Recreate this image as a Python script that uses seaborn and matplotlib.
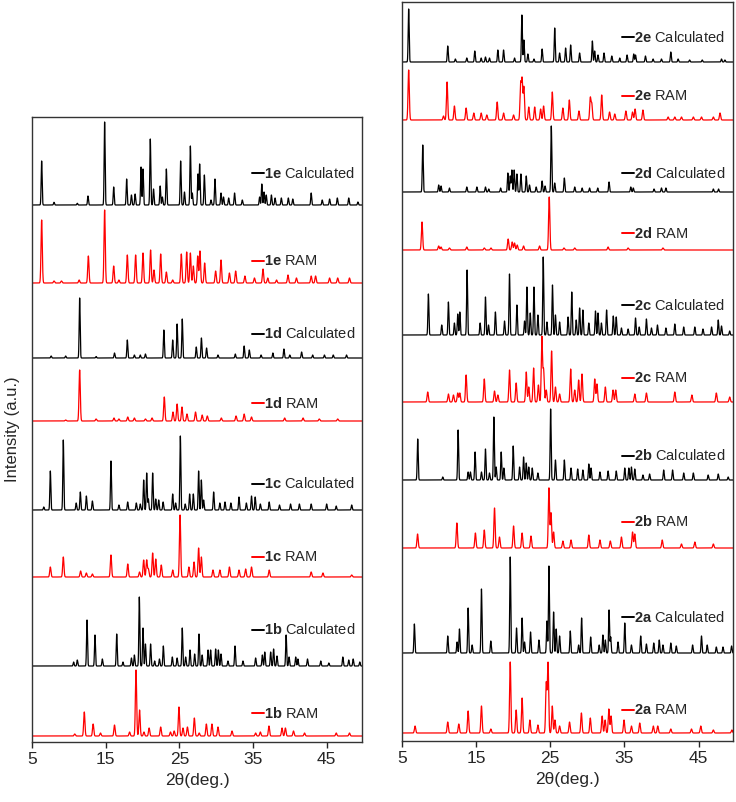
import numpy as np
import pandas as pd
import seaborn as sns
import matplotlib.pyplot as plt

# peak lists: (2theta, height in px)
calc_1e = [(6.31, 44), (7.99, 2.7), (11.15, 1.7), (12.6, 9), (14.86, 83), (16.09, 18), (17.85, 26),
           (18.5, 10), (19.0, 11), (19.8, 38), (20.07, 36), (21.06, 66), (21.5, 16), (22.4, 19),
           (22.7, 8), (23.24, 36), (25.18, 44), (25.7, 13), (26.5, 59), (26.76, 12), (27.53, 31),
           (27.76, 41), (28.4, 30), (29.3, 5), (29.84, 26), (30.66, 12), (31.0, 8), (31.7, 7),
           (32.5, 12), (33.55, 5), (35.9, 8), (36.2, 21), (36.5, 13), (36.8, 10), (37.5, 10),
           (38.0, 7), (38.85, 7), (39.8, 7), (40.4, 6), (42.9, 12), (44.4, 5), (45.4, 6),
           (46.45, 7), (48.0, 7), (49.25, 3)]
ram_1e = [(6.31, 63), (7.99, 2), (9.0, 2), (11.4, 3), (12.65, 27), (14.86, 73), (16.09, 17),
          (16.8, 3), (17.94, 28), (19.07, 28), (20.07, 30), (21.1, 33), (21.56, 13), (22.47, 29),
          (23.24, 11), (24.1, 3), (25.27, 29), (26.0, 31), (26.5, 30), (26.9, 17), (27.5, 27),
          (27.8, 32), (28.44, 20), (29.93, 12), (30.66, 23), (31.8, 10), (32.65, 12), (33.9, 7),
          (35.2, 5), (36.36, 14), (37.0, 5), (38.2, 3), (39.75, 8), (40.9, 5), (42.9, 7),
          (43.5, 7), (45.4, 5), (46.5, 5), (48.1, 5)]
calc_1d = [(7.6, 2), (9.57, 2), (11.47, 60), (13.7, 1.5), (16.2, 5), (17.94, 18), (18.9, 3),
           (19.7, 3), (20.4, 4), (22.9, 28), (24.1, 18), (24.7, 34), (25.4, 39), (27.3, 11),
           (28.0, 20), (28.7, 10), (30.25, 3), (32.6, 4), (33.8, 12), (34.5, 8), (36.1, 3),
           (37.7, 5), (39.2, 9), (40.0, 3), (41.6, 6), (43.1, 3), (44.7, 3), (45.9, 3), (47.7, 3)]
ram_1d = [(9.57, 1), (11.47, 51), (13.7, 2), (16.13, 3), (16.8, 2), (18.0, 4), (18.9, 3),
          (20.4, 2), (21.3, 3), (22.96, 24), (24.14, 9), (24.7, 17), (25.36, 14), (26.04, 7),
          (27.2, 9), (28.1, 6), (28.8, 5), (30.7, 3), (32.7, 5), (33.8, 7), (34.8, 4), (39.3, 3),
          (41.8, 3), (44.0, 2), (46.5, 2)]
calc_1c = [(6.6, 3), (7.49, 39), (9.25, 70), (11.0, 7), (11.56, 18), (12.38, 14), (13.2, 9),
           (15.72, 49), (16.8, 5), (17.99, 8), (19.16, 7), (19.7, 6), (20.16, 30), (20.57, 37),
           (20.8, 11), (21.38, 37), (21.8, 11), (22.2, 10), (22.8, 8), (24.1, 16), (24.5, 7),
           (25.14, 74), (25.8, 6), (26.4, 16), (26.9, 16), (27.62, 39), (27.99, 30), (28.3, 10),
           (29.66, 18), (30.5, 7), (31.2, 8), (32.0, 7), (33.1, 13), (34.1, 7), (34.8, 14),
           (35.3, 13), (36.0, 6), (37.2, 8), (38.6, 5), (40.1, 6), (41.3, 6), (42.9, 6),
           (45.0, 6), (46.3, 4), (48.4, 5)]
ram_1c = [(7.49, 10), (9.25, 20), (11.6, 6), (12.38, 4), (13.2, 3), (15.72, 22), (18.0, 13),
          (19.6, 5), (20.16, 17), (20.57, 17), (20.8, 8), (21.38, 24), (21.8, 18), (22.55, 12),
          (24.1, 7), (25.1, 62), (26.3, 10), (27.0, 15), (27.62, 29), (27.99, 20), (29.57, 7),
          (30.5, 7), (31.8, 10), (33.1, 7), (34.0, 8), (34.8, 10), (37.2, 7), (42.9, 5),
          (44.5, 4), (48.4, 2)]
calc_1b = [(10.65, 4), (11.15, 6), (12.47, 46), (13.55, 31), (14.55, 7), (16.5, 32), (17.35, 4),
           (18.5, 8), (18.9, 11), (19.57, 69), (20.07, 38), (20.4, 22), (21.1, 22), (21.65, 5),
           (22.3, 7), (22.83, 20), (24.05, 9), (24.7, 8), (25.4, 38), (25.86, 9), (26.45, 16),
           (27.08, 12), (27.67, 32), (28.1, 11), (28.9, 16), (29.25, 16), (29.93, 17),
           (30.3, 16), (30.66, 12), (31.6, 5), (32.56, 20), (33.64, 5), (35.36, 8), (36.27, 11),
           (36.6, 14), (37.4, 14), (37.8, 17), (38.26, 10), (39.5, 31), (39.9, 9), (40.8, 9),
           (41.1, 7), (42.4, 7), (44.2, 5), (45.3, 3), (47.2, 9), (48.0, 6), (48.6, 7), (49.5, 4)]
ram_1b = [(10.8, 2), (12.1, 24), (13.3, 12), (14.3, 3), (16.2, 11), (18.25, 4), (19.12, 66),
          (19.6, 26), (20.2, 4), (20.9, 8), (22.47, 9), (23.8, 4), (24.3, 5), (24.95, 29),
          (25.5, 8), (26.1, 9), (27.04, 18), (27.7, 3), (28.67, 12), (29.43, 12), (30.25, 9),
          (32.15, 5), (35.36, 3), (36.0, 4), (37.17, 10), (38.94, 8), (39.4, 8), (40.5, 5),
          (42.0, 3), (46.3, 3), (48.1, 3)]

calc_2e = [(5.9, 53), (11.17, 16), (12.2, 3), (13.74, 4), (14.82, 11), (15.68, 4), (16.26, 5),
           (16.8, 4), (17.93, 12), (18.7, 12), (20.18, 4), (21.17, 47), (21.44, 22), (21.98, 8),
           (22.8, 3), (23.9, 13), (25.6, 34), (26.26, 9), (27.07, 14), (27.75, 17), (28.96, 9),
           (30.68, 21), (30.99, 11), (31.44, 7), (32.25, 9), (33.3, 6), (34.37, 4), (35.36, 7),
           (36.26, 8), (36.5, 7), (37.84, 6), (38.87, 3), (40.0, 3), (41.26, 10), (42.25, 3),
           (43.8, 2), (45.5, 2), (48.1, 3), (48.56, 2)]
ram_2e = [(5.9, 50), (10.6, 4), (11.08, 38), (12.07, 14), (13.65, 12), (14.68, 7), (15.68, 7),
          (16.44, 5), (17.84, 18), (18.7, 7), (20.05, 5), (21.0, 36), (21.2, 40), (21.44, 33),
          (22.1, 13), (22.9, 13), (23.7, 11), (24.1, 14), (25.27, 28), (26.7, 12), (27.57, 20),
          (28.87, 9), (30.4, 22), (30.6, 16), (31.94, 25), (33.0, 8), (33.7, 6), (35.2, 9),
          (36.1, 8), (36.44, 11), (37.5, 10), (40.9, 3), (41.8, 3), (42.7, 3), (44.3, 3),
          (45.4, 3), (47.0, 3), (47.9, 7)]
calc_2d = [(7.8, 47), (9.95, 7), (10.27, 6), (11.4, 4), (13.74, 5), (15.1, 5), (16.26, 5),
           (16.7, 3), (18.3, 4), (19.28, 19), (19.6, 16), (19.82, 22), (20.13, 22), (20.5, 18),
           (21.04, 18), (21.76, 16), (22.2, 7), (23.1, 5), (23.9, 11), (24.3, 6), (25.14, 66),
           (25.6, 9), (26.9, 14), (28.3, 5), (29.3, 4), (30.3, 4), (31.4, 4), (32.93, 10),
           (35.86, 5), (36.2, 4), (39.0, 3), (40.0, 4), (40.6, 4), (47.0, 3), (47.7, 3)]
ram_2d = [(7.7, 28), (9.95, 4), (10.27, 3), (11.4, 2), (13.74, 3), (16.1, 2), (17.0, 2),
          (19.32, 11), (19.86, 8), (20.18, 7), (20.54, 5), (21.4, 4), (23.56, 4), (24.86, 53),
          (26.85, 2), (28.3, 2), (32.8, 3), (35.5, 2), (40.2, 2)]
calc_2c = [(8.56, 41), (10.36, 10), (11.26, 33), (12.07, 12), (12.52, 21), (12.8, 23),
           (13.78, 65), (15.54, 12), (16.26, 38), (16.67, 10), (17.6, 23), (18.83, 14),
           (19.5, 61), (20.5, 30), (21.53, 14), (21.85, 48), (22.3, 22), (22.8, 48), (23.33, 20),
           (24.05, 78), (24.55, 13), (25.3, 50), (25.7, 20), (26.26, 13), (27.4, 18), (27.9, 43),
           (28.5, 15), (28.96, 27), (29.4, 25), (30.2, 12), (31.1, 24), (31.44, 22), (31.9, 12),
           (32.6, 25), (33.5, 19), (33.9, 18), (34.6, 7), (35.5, 6), (36.5, 17), (37.0, 8),
           (37.97, 16), (38.65, 7), (39.46, 10), (40.6, 7), (41.8, 11), (43.0, 8), (44.5, 8),
           (45.6, 6), (46.76, 8), (47.66, 15), (48.1, 9), (49.2, 4)]
ram_2c = [(8.47, 10), (11.26, 8), (11.94, 7), (12.52, 9), (12.8, 9), (13.65, 27), (16.1, 23),
          (17.48, 11), (17.93, 7), (19.5, 32), (20.4, 19), (21.76, 30), (22.1, 15), (22.75, 34),
          (23.4, 17), (23.87, 65), (24.1, 32), (24.46, 12), (25.18, 51), (25.7, 15), (26.26, 8),
          (27.75, 33), (28.3, 12), (28.83, 22), (29.28, 28), (31.0, 23), (31.3, 18), (32.43, 15),
          (33.47, 12), (33.83, 12), (36.4, 8), (37.97, 9), (41.8, 10), (44.1, 7), (47.4, 9),
          (49.2, 5)]
calc_2b = [(7.12, 41), (10.5, 3), (12.57, 50), (13.92, 8), (14.23, 8), (14.86, 28), (15.72, 8),
           (16.26, 31), (16.8, 7), (17.39, 63), (17.7, 13), (18.38, 28), (18.74, 12), (20.0, 34),
           (20.86, 13), (21.4, 23), (21.76, 17), (22.1, 13), (22.57, 12), (23.33, 7), (25.05, 71),
           (25.7, 20), (26.9, 20), (27.8, 12), (28.7, 11), (29.4, 10), (30.2, 16), (30.5, 12),
           (31.7, 8), (32.8, 9), (33.9, 9), (35.05, 12), (35.6, 12), (35.95, 13), (36.4, 11),
           (37.5, 5), (38.4, 6), (40.3, 10), (41.5, 10), (43.0, 7), (44.3, 7), (46.3, 5),
           (47.66, 6), (49.0, 3)]
ram_2b = [(7.1, 14), (12.4, 25), (14.9, 15), (16.1, 18), (17.48, 40), (18.15, 11), (20.05, 22),
          (21.2, 15), (22.4, 12), (24.82, 60), (25.1, 35), (25.45, 16), (26.7, 7), (27.8, 8),
          (30.2, 13), (31.7, 8), (33.1, 7), (34.6, 11), (36.1, 16), (36.4, 14), (40.1, 8),
          (42.7, 4), (44.5, 6), (47.0, 4)]
calc_2a = [(6.67, 29), (11.17, 17), (12.43, 11), (12.75, 24), (13.92, 45), (14.46, 8),
           (15.72, 64), (16.98, 12), (19.6, 96), (20.45, 25), (21.2, 35), (21.53, 11),
           (22.34, 21), (23.47, 13), (24.55, 32), (24.82, 87), (25.45, 41), (25.8, 24),
           (26.26, 17), (27.7, 22), (28.83, 8), (29.23, 35), (30.45, 16), (31.6, 8), (32.1, 18),
           (32.43, 13), (32.93, 43), (33.15, 16), (34.14, 11), (35.05, 30), (35.95, 8),
           (37.2, 17), (37.97, 9), (38.96, 10), (39.7, 13), (40.2, 8), (41.26, 10), (42.0, 7),
           (44.2, 8), (45.4, 17), (46.17, 8), (47.4, 6), (48.3, 6), (49.46, 7)]
ram_2a = [(6.76, 7), (11.17, 11), (12.66, 9), (13.92, 22), (15.72, 27), (16.98, 4), (19.6, 71),
          (20.4, 23), (21.2, 35), (22.25, 13), (23.33, 8), (24.46, 50), (24.7, 70), (25.27, 27),
          (25.63, 13), (26.26, 7), (27.6, 11), (29.2, 20), (30.4, 15), (32.0, 17), (32.4, 13),
          (32.9, 24), (33.2, 17), (34.95, 13), (35.95, 7), (37.07, 10), (38.9, 7), (39.5, 7),
          (41.26, 4), (44.05, 4), (45.3, 7), (47.0, 3), (49.5, 3)]

# (name, kind, peaks) top to bottom, with vertical offsets (px above axis bottom)
left_patterns = [("1e", "Calculated", calc_1e), ("1e", "RAM", ram_1e),
                 ("1d", "Calculated", calc_1d), ("1d", "RAM", ram_1d),
                 ("1c", "Calculated", calc_1c), ("1c", "RAM", ram_1c),
                 ("1b", "Calculated", calc_1b), ("1b", "RAM", ram_1b)]
left_offsets = [537, 459, 384, 321, 232, 165, 76, 6]
left_label_dy = [32, 22, 24, 18, 26, 20, 36, 23]

right_patterns = [("2e", "Calculated", calc_2e), ("2e", "RAM", ram_2e),
                  ("2d", "Calculated", calc_2d), ("2d", "RAM", ram_2d),
                  ("2c", "Calculated", calc_2c), ("2c", "RAM", ram_2c),
                  ("2b", "Calculated", calc_2b), ("2b", "RAM", ram_2b),
                  ("2a", "Calculated", calc_2a), ("2a", "RAM", ram_2a)]
right_offsets = [679, 621, 549, 491, 406, 339, 261, 193, 88, 8]
right_label_dy = [25, 24, 19, 17, 30, 24, 24, 26, 36, 23]

ticks = [5, 15, 25, 35, 45]

sns.set_style("ticks")
plt.rcParams["font.family"] = ["Liberation Sans", "DejaVu Sans"]
plt.rcParams["mathtext.fontset"] = "custom"
plt.rcParams["mathtext.rm"] = "Liberation Sans"
plt.rcParams["mathtext.bf"] = "Liberation Sans:bold"

tt = np.arange(5.0, 50.0, 0.01)


def profile(peaks, width):
    y = np.zeros_like(tt)
    for pos, h in peaks:
        y += h * np.exp(-0.5 * ((tt - pos) / width) ** 2)
    return y


def draw_panel(ax, patterns, offsets, label_dy, xmax, ytop, lab_x):
    rows = []
    for (name, kind, peaks), off in zip(patterns, offsets):
        w = 0.065 if kind == "Calculated" else 0.085
        rows.append(pd.DataFrame({"tt": tt, "I": profile(peaks, w) + off,
                                  "id": f"{name} {kind}", "kind": kind}))
    df = pd.concat(rows, ignore_index=True)
    sns.lineplot(data=df, x="tt", y="I", units="id", hue="kind", estimator=None,
                 palette={"Calculated": "black", "RAM": "#ff0000"}, lw=0.9,
                 legend=False, ax=ax, sort=False)
    for (name, kind, _), off, dy in zip(patterns, offsets, label_dy):
        col = "black" if kind == "Calculated" else "#ff0000"
        ax.plot([lab_x, lab_x + 1.6], [off + dy, off + dy], color=col, lw=1.4)
        ax.text(lab_x + 1.65, off + dy, f"$\\mathbf{{{name}}}$ {kind}", fontsize=10.5,
                va="center", ha="left")
    ax.set_xlim(5, xmax)
    ax.set_ylim(0, ytop)
    ax.set_xticks(ticks)
    ax.set_yticks([])
    ax.tick_params(axis="x", labelsize=12.5, length=4, width=1, direction="out")
    ax.set_xlabel("2θ(deg.)", fontsize=12.5)
    ax.set_ylabel("")
    for s in ax.spines.values():
        s.set_visible(True)
        s.set_color("#333333")
        s.set_linewidth(1.0)


fig = plt.figure(figsize=(7.36, 8.02), dpi=100)
ax1 = fig.add_axes([32 / 736, 60 / 802, 330 / 736, 625 / 802])
ax2 = fig.add_axes([402 / 736, 61 / 802, 331 / 736, 739 / 802])

draw_panel(ax1, left_patterns, left_offsets, left_label_dy, 49.8, 625, 34.9)
draw_panel(ax2, right_patterns, right_offsets, right_label_dy, 49.65, 739, 34.7)

ax1.set_ylabel("Intensity (a.u.)", fontsize=12)
ax1.yaxis.set_label_coords(-0.036, 0.5)

fig.savefig("out.png", dpi=100)
